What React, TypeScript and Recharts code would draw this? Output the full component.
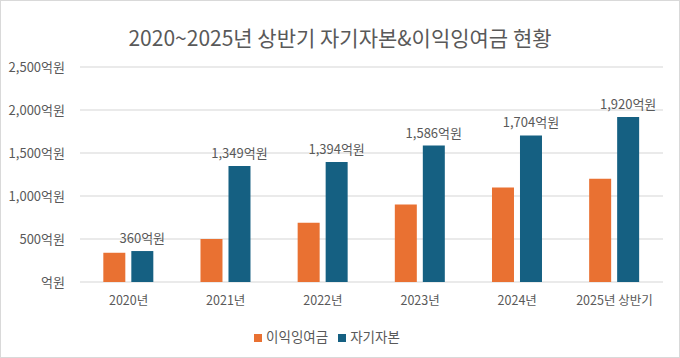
import React from 'react';
import {
  BarChart,
  Bar,
  XAxis,
  YAxis,
  CartesianGrid,
  Legend,
  LabelList,
} from 'recharts';

const years = ['2020년', '2021년', '2022년', '2023년', '2024년', '2025년 상반기'];
const retainedEarnings = [340, 500, 690, 900, 1100, 1200];
const equity = [360, 1349, 1394, 1586, 1704, 1920];
const yTicks = [0, 500, 1000, 1500, 2000, 2500];

const FONT = '"Noto Sans CJK KR", "Noto Sans", sans-serif';
const TEXT = '#595959';

const chartData = years.map((year, i) => ({
  year,
  retained: retainedEarnings[i],
  equity: equity[i],
}));

const formatWon = (value: number) => (value === 0 ? '억원' : `${value.toLocaleString('en-US')}억원`);

const App: React.FC = () => {
  return (
    <div
      style={{
        position: 'absolute',
        top: 0,
        left: 0,
        width: 680,
        height: 358,
        boxSizing: 'border-box',
        border: '1px solid #d9d9d9',
        background: '#fff',
        fontFamily: FONT,
      }}
    >
      <div
        style={{
          position: 'absolute',
          top: 22,
          left: 0,
          width: 678,
          textAlign: 'center',
          fontSize: 21,
          color: TEXT,
          lineHeight: '28px',
        }}
      >
        2020~2025년 상반기 자기자본&이익잉여금 현황
      </div>
      <BarChart
        width={678}
        height={356}
        data={chartData}
        margin={{ top: 66, right: 16, bottom: 13, left: 0 }}
        barCategoryGap="24%"
        barGap={6}
      >
        <CartesianGrid vertical={false} stroke="#e3e3e3" strokeWidth={1.5} />
        <XAxis
          dataKey="year"
          axisLine={false}
          tickLine={false}
          tickMargin={8}
          tick={{ fill: TEXT, fontSize: 12.5, fontFamily: FONT }}
          height={30}
        />
        <YAxis
          domain={[0, 2500]}
          ticks={yTicks}
          tickFormatter={formatWon}
          axisLine={false}
          tickLine={false}
          width={79}
          tickMargin={9}
          tick={{ fill: TEXT, fontSize: 13, fontFamily: FONT }}
        />
        <Legend
          verticalAlign="bottom"
          iconType="square"
          iconSize={8}
          height={32}
          wrapperStyle={{ bottom: 2 }}
          formatter={(value: string) => (
            <span style={{ color: TEXT, fontSize: 13.5, fontFamily: FONT }}>{value}</span>
          )}
        />
        <Bar dataKey="retained" name="이익잉여금" fill="#E97132" isAnimationActive={false} />
        <Bar dataKey="equity" name="자기자본" fill="#156082" isAnimationActive={false}>
          <LabelList
            dataKey="equity"
            position="top"
            offset={8}
            formatter={(v: number) => formatWon(v)}
            style={{ fill: TEXT, fontSize: 13, fontFamily: FONT }}
          />
        </Bar>
      </BarChart>
    </div>
  );
};

export default App;
